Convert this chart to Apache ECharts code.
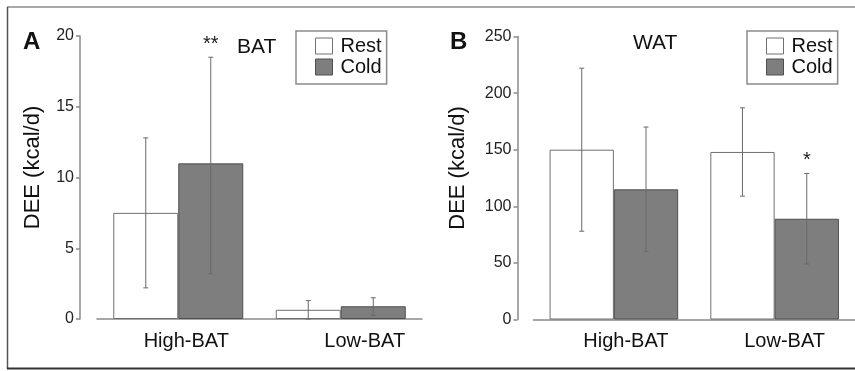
<!DOCTYPE html>
<html>
<head>
<meta charset="utf-8">
<script src="https://cdn.jsdelivr.net/npm/echarts@6/dist/echarts.min.js"></script>
<style>
	html, body {margin: 0; padding: 0; background: #fff;}
	#chart {width: 855px; height: 371px;}
</style>
</head>
<body>
<div id="chart"></div>
<script>
const categories = ['High-BAT', 'Low-BAT'];
const seriesNames = ['Rest', 'Cold'];

// panel A: BAT
const batRest = [7.5, 0.65];
const batRestLow = [2.2, 0.0];
const batRestHigh = [12.8, 1.3];
const batCold = [11.0, 0.9];
const batColdLow = [3.2, 0.25];
const batColdHigh = [18.5, 1.5];
const batColdSig = ['**', ''];
const batTicks = [0, 5, 10, 15, 20];

// panel B: WAT
const watRest = [150, 148];
const watRestLow = [78, 109];
const watRestHigh = [222, 187];
const watCold = [115, 89];
const watColdLow = [60, 49];
const watColdHigh = [170, 129];
const watColdSig = ['', '*'];
const watTicks = [0, 50, 100, 150, 200, 250];

const font = 'Liberation Sans';
const restStyle = {color: '#ffffff', borderColor: '#707070', borderWidth: 1};
const coldStyle = {color: '#7e7e7e', borderColor: '#4f4f4f', borderWidth: 1};

function errors(index, low, high, sig, side)
{
	return {
		type: 'custom',
		xAxisIndex: index,
		yAxisIndex: index,
		silent: true,
		z: 5,
		data: low.map((v, i) => [i, v, high[i]]),
		renderItem: (params, api) =>
		{
			let band = api.size([1, 0])[0];
			let top = api.coord([api.value(0), api.value(2)]);
			let bottom = api.coord([api.value(0), api.value(1)]);
			let x = top[0] + side * band * 0.2;
			let line = {stroke: '#6a6a6a', lineWidth: 1};
			let children = [
				{type: 'line', shape: {x1: x, y1: top[1], x2: x, y2: bottom[1]}, style: line},
				{type: 'line', shape: {x1: x - 2.5, y1: top[1], x2: x + 2.5, y2: top[1]}, style: line},
				{type: 'line', shape: {x1: x - 2.5, y1: bottom[1], x2: x + 2.5, y2: bottom[1]}, style: line}
			];
			let text = sig ? sig[params.dataIndex] : '';
			if (text)
				children.push({type: 'text', style: {text, x, y: top[1] - 2.5, align: 'center', verticalAlign: 'bottom',
					font: '20px "' + font + '"', fill: '#222'}});
			return {type: 'group', children};
		}
	};
}

function bars(index, rest, cold)
{
	return [
		{name: seriesNames[0], type: 'bar', xAxisIndex: index, yAxisIndex: index, data: rest,
			barGap: 0, barCategoryGap: '20%', itemStyle: restStyle, silent: true},
		{name: seriesNames[1], type: 'bar', xAxisIndex: index, yAxisIndex: index, data: cold,
			barGap: 0, barCategoryGap: '20%', itemStyle: coldStyle, silent: true}
	];
}

function legend(left)
{
	return {
		orient: 'vertical',
		left, top: 31,
		padding: [5, 5, 7, 19],
		itemWidth: 17,
		itemHeight: 16,
		itemGap: 1,
		borderColor: '#8a8a8a',
		borderWidth: 1.5,
		selectedMode: false,
		textStyle: {fontFamily: font, fontSize: 20, color: '#111', lineHeight: 16, padding: [0, 0, 0, 3]},
		data: [
			{name: seriesNames[0], icon: 'rect', itemStyle: restStyle},
			{name: seriesNames[1], icon: 'rect', itemStyle: coldStyle}
		]
	};
}

function xAxis(index, pads)
{
	return {
		type: 'category',
		gridIndex: index,
		data: categories,
		axisTick: {show: false},
		axisLine: {lineStyle: {color: '#8a8a8a', width: 1.5}},
		axisLabel: {
			margin: 12,
			formatter: (v, i) => '{c' + i + '|' + v + '}',
			rich: {
				c0: {fontFamily: font, fontSize: 20, color: '#111', padding: [0, 0, 0, pads[0]]},
				c1: {fontFamily: font, fontSize: 20, color: '#111', padding: [0, 0, 0, pads[1]]}
			}
		}
	};
}

function yAxis(index, ticks, offset, nameGap)
{
	return {
		type: 'value',
		gridIndex: index,
		min: ticks[0],
		max: ticks[ticks.length - 1],
		interval: ticks[1] - ticks[0],
		offset,
		name: 'DEE (kcal/d)',
		nameLocation: 'middle',
		nameGap,
		nameTextStyle: {fontFamily: font, fontSize: 22, color: '#111', padding: [0, 0, 0, 20]},
		splitLine: {show: false},
		axisLine: {show: true, lineStyle: {color: '#8a8a8a', width: 1.5}},
		axisTick: {show: true, length: 4, lineStyle: {color: '#8a8a8a', width: 1.5}},
		axisLabel: {margin: 6, fontFamily: font, fontSize: 16, color: '#222'}
	};
}

function title(text, left, top, size, weight)
{
	return {text, left, top, padding: 0,
		textStyle: {fontFamily: font, fontSize: size, fontWeight: weight, color: '#111'}};
}

const chart = echarts.init(document.getElementById('chart'), null, {renderer: 'canvas'});
chart.setOption({
	animation: false,
	backgroundColor: '#fff',
	title: [
		title('A', 23, 30, 24, 'bold'),
		title('BAT', 237, 37, 21, 'normal'),
		title('B', 450, 30, 24, 'bold'),
		title('WAT', 633, 33, 21, 'normal')
	],
	legend: [legend(296), legend(747)],
	grid: [
		{left: 97, top: 36, width: 325, height: 283},
		{left: 533.5, top: 36.5, width: 325, height: 283}
	],
	xAxis: [xAxis(0, [16, 48]), xAxis(1, [24, 20])],
	yAxis: [yAxis(0, batTicks, 17, 36), yAxis(1, watTicks, 16, 49)],
	series: [
		...bars(0, batRest, batCold),
		...bars(1, watRest, watCold),
		errors(0, batRestLow, batRestHigh, null, -1),
		errors(0, batColdLow, batColdHigh, batColdSig, 1),
		errors(1, watRestLow, watRestHigh, null, -1),
		errors(1, watColdLow, watColdHigh, watColdSig, 1)
	],
	graphic: [
		{type: 'line', silent: true, shape: {x1: 7, y1: 7, x2: 855, y2: 7}, style: {stroke: '#a8a8a8', lineWidth: 2}},
		{type: 'line', silent: true, shape: {x1: 7.5, y1: 7, x2: 7.5, y2: 369}, style: {stroke: '#555', lineWidth: 1.5}},
		{type: 'line', silent: true, shape: {x1: 7, y1: 368.5, x2: 855, y2: 368.5}, style: {stroke: '#333', lineWidth: 2}}
	]
});
</script>
</body>
</html>
